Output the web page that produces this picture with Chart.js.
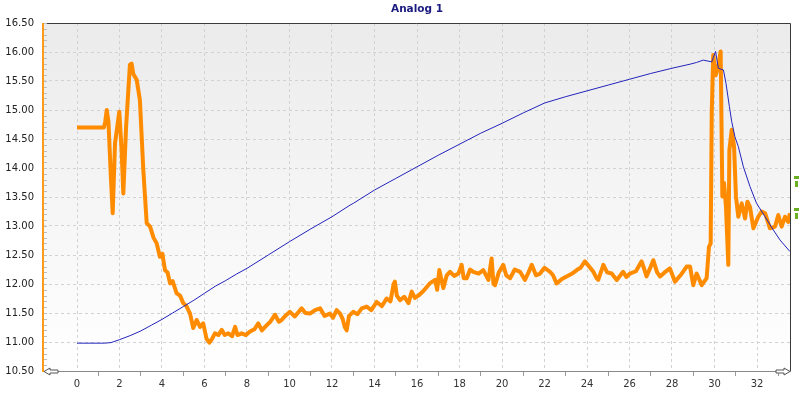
<!DOCTYPE html>
<html>
<head>
<meta charset="utf-8">
<script src="https://cdn.jsdelivr.net/npm/chart.js@4"></script>
<style>
  html, body { margin: 0; padding: 0; background: #fff; }
  #wrap { width: 800px; height: 398px; }
</style>
</head>
<body>
<div id="wrap"><canvas id="chart" width="800" height="398"></canvas></div>
<script>
// x ticks shown under the axis (odd ones get only a small tick mark)
const xTicks = [0, 1, 2, 3, 4, 5, 6, 7, 8, 9, 10, 11, 12, 13, 14, 15, 16, 17, 18, 19, 20, 21, 22, 23, 24, 25, 26, 27, 28, 29, 30, 31, 32, 33];

// blue trace
const blueX = [0, 1.3, 1.6, 2, 2.5, 3, 3.5, 4, 4.5, 5, 5.5, 6, 6.5, 7, 7.5, 8, 9, 10, 11, 12, 12.85, 13, 14, 15, 16, 17, 18, 19, 20, 21, 22, 23, 24, 25, 26, 27, 28, 28.85, 29.16, 29.47, 29.87, 30.05, 30.18, 30.42, 30.54, 30.7, 30.81, 30.96, 31.12, 31.36, 31.67, 31.98, 32.38, 32.77, 33.08, 33.55];
const blueY = [10.98, 10.98, 10.99, 11.04, 11.11, 11.19, 11.29, 11.39, 11.5, 11.61, 11.72, 11.84, 11.96, 12.06, 12.17, 12.27, 12.5, 12.73, 12.95, 13.16, 13.36, 13.39, 13.62, 13.82, 14.02, 14.22, 14.41, 14.6, 14.77, 14.95, 15.12, 15.23, 15.33, 15.43, 15.53, 15.63, 15.72, 15.79, 15.82, 15.86, 15.83, 16.01, 15.72, 15.69, 15.46, 15.06, 14.8, 14.54, 14.37, 14.02, 13.68, 13.39, 13.16, 12.93, 12.76, 12.56];

// orange trace
const orangeX = [0, 1.27, 1.33, 1.4, 1.48, 1.6, 1.68, 1.79, 1.99, 2.1, 2.18, 2.31, 2.49, 2.57, 2.65, 2.81, 2.96, 3.12, 3.28, 3.44, 3.6, 3.75, 3.9, 4.02, 4.14, 4.26, 4.38, 4.5, 4.69, 4.85, 5, 5.15, 5.32, 5.47, 5.63, 5.79, 5.94, 6.1, 6.23, 6.35, 6.49, 6.65, 6.81, 6.95, 7.12, 7.3, 7.44, 7.55, 7.75, 7.95, 8.14, 8.35, 8.53, 8.7, 8.93, 9.1, 9.32, 9.5, 9.63, 9.8, 10.02, 10.25, 10.57, 10.75, 10.96, 11.2, 11.44, 11.65, 11.9, 12.05, 12.22, 12.38, 12.5, 12.6, 12.69, 12.8, 13, 13.2, 13.4, 13.63, 13.85, 14.1, 14.35, 14.57, 14.75, 14.9, 14.96, 15.05, 15.2, 15.4, 15.6, 15.75, 15.9, 16.1, 16.3, 16.6, 16.85, 16.95, 17.05, 17.24, 17.4, 17.55, 17.75, 17.95, 18.1, 18.2, 18.34, 18.5, 18.65, 18.9, 19.12, 19.36, 19.51, 19.6, 19.67, 19.85, 20.06, 20.2, 20.38, 20.6, 20.85, 21.08, 21.25, 21.4, 21.6, 21.79, 22, 22.26, 22.4, 22.57, 22.8, 23.04, 23.3, 23.52, 23.7, 23.9, 24.1, 24.3, 24.45, 24.53, 24.77, 24.95, 25.16, 25.4, 25.7, 25.85, 26.02, 26.3, 26.57, 26.7, 26.8, 27, 27.12, 27.3, 27.44, 27.65, 27.9, 28.14, 28.4, 28.69, 28.85, 29, 29.16, 29.4, 29.63, 29.74, 29.82, 29.87, 29.94, 30.05, 30.15, 30.29, 30.37, 30.45, 30.54, 30.65, 30.7, 30.81, 30.92, 31.01, 31.12, 31.28, 31.44, 31.55, 31.67, 31.83, 32.06, 32.22, 32.38, 32.61, 32.85, 33, 33.16, 33.32, 33.47, 33.55];
const orangeY = [14.7, 14.7, 14.8, 15, 14.8, 13.8, 13.22, 14.43, 14.97, 14.3, 13.56, 14.71, 15.78, 15.8, 15.62, 15.52, 15.17, 13.97, 13.05, 12.99, 12.8, 12.7, 12.47, 12.52, 12.24, 12.2, 12.01, 12.05, 11.84, 11.8, 11.67, 11.62, 11.49, 11.24, 11.38, 11.26, 11.32, 11.05, 10.99, 11.05, 11.15, 11.12, 11.21, 11.12, 11.15, 11.1, 11.26, 11.12, 11.15, 11.12, 11.18, 11.22, 11.32, 11.2, 11.29, 11.35, 11.47, 11.35, 11.38, 11.45, 11.52, 11.44, 11.58, 11.5, 11.49, 11.55, 11.58, 11.45, 11.49, 11.42, 11.55, 11.49, 11.4, 11.26, 11.2, 11.45, 11.52, 11.48, 11.58, 11.61, 11.55, 11.69, 11.62, 11.75, 11.7, 12, 12.04, 11.8, 11.72, 11.78, 11.67, 11.87, 11.76, 11.81, 11.88, 12.01, 12.07, 11.9, 12.24, 11.93, 12.15, 12.21, 12.14, 12.18, 12.33, 12.1, 12.1, 12.25, 12.21, 12.18, 12.24, 12.07, 12.44, 12, 11.98, 12.2, 12.33, 12.15, 12.1, 12.25, 12.21, 12.07, 12.2, 12.33, 12.15, 12.18, 12.28, 12.21, 12.15, 12.01, 12.08, 12.13, 12.18, 12.24, 12.28, 12.39, 12.3, 12.21, 12.1, 12.07, 12.33, 12.2, 12.18, 12.07, 12.21, 12.12, 12.18, 12.22, 12.39, 12.25, 12.13, 12.3, 12.41, 12.2, 12.13, 12.2, 12.27, 12.04, 12.15, 12.3, 12.3, 11.98, 12.18, 11.98, 12.1, 12.64, 12.7, 14.94, 15.95, 15.6, 15.7, 16.01, 13.51, 13.74, 13.33, 12.33, 14.31, 14.66, 14.37, 13.51, 13.16, 13.39, 13.13, 13.42, 13.33, 12.96, 13.16, 13.25, 13.22, 12.96, 12.99, 13.19, 12.99, 13.16, 13.07, 13.22];

const toPoints = (xs, ys) => xs.map((x, i) => ({ x, y: ys[i] }));

// plot background, frame, arrows and small ticks on the left axis
const framePlugin = {
  id: "frame",
  beforeDraw(chart) {
    const { ctx, chartArea: a } = chart;
    const g = ctx.createLinearGradient(0, a.top, 0, a.bottom);
    g.addColorStop(0, "#ebebeb");
    g.addColorStop(1, "#ffffff");
    ctx.save();
    ctx.fillStyle = g;
    ctx.fillRect(a.left, a.top, a.right - a.left, a.bottom - a.top);
    ctx.restore();
  },
  afterDraw(chart) {
    const { ctx, chartArea: a, scales } = chart;
    ctx.save();
    // top + right
    ctx.strokeStyle = "#3a3a3a";
    ctx.lineWidth = 1;
    ctx.beginPath();
    ctx.moveTo(a.left, a.top + 0.5);
    ctx.lineTo(a.right - 0.5, a.top + 0.5);
    ctx.lineTo(a.right - 0.5, a.bottom);
    ctx.stroke();
    // bottom
    ctx.strokeStyle = "#8a8a8a";
    ctx.beginPath();
    ctx.moveTo(a.left, a.bottom + 0.5);
    ctx.lineTo(a.right, a.bottom + 0.5);
    ctx.stroke();
    // left axis in orange
    ctx.strokeStyle = "#ff9a1a";
    ctx.lineWidth = 2;
    ctx.beginPath();
    ctx.moveTo(a.left, a.top);
    ctx.lineTo(a.left, a.bottom + 1);
    ctx.stroke();
    // minor ticks inside left axis
    ctx.strokeStyle = "#bdbdbd";
    ctx.lineWidth = 1;
    const y = scales.y;
    for (let v = 10.6; v < 16.5; v += 0.1) {
      const py = Math.round(y.getPixelForValue(v)) + 0.5;
      ctx.beginPath();
      ctx.moveTo(a.left + 1, py);
      ctx.lineTo(a.left + 4, py);
      ctx.stroke();
    }
    // arrows
    const arrow = (x0, yc, dir) => {
      ctx.beginPath();
      ctx.moveTo(x0, yc);
      ctx.lineTo(x0 + dir * 6, yc - 3.5);
      ctx.lineTo(x0 + dir * 6, yc - 1.5);
      ctx.lineTo(x0 + dir * 14, yc - 1.5);
      ctx.lineTo(x0 + dir * 14, yc + 1.5);
      ctx.lineTo(x0 + dir * 6, yc + 1.5);
      ctx.lineTo(x0 + dir * 6, yc + 3.5);
      ctx.closePath();
      ctx.fillStyle = "#ffffff";
      ctx.fill();
      ctx.strokeStyle = "#555";
      ctx.stroke();
    };
    arrow(a.left + 1, a.bottom + 0.5, 1);
    arrow(a.right - 1, a.bottom + 0.5, -1);
    // little green markers right of the plot
    ctx.fillStyle = "#6cae22";
    [176, 208].forEach(t => {
      ctx.fillRect(a.right + 3, t, 5, 3);
      ctx.fillRect(a.right + 4, t + 5, 3, 6);
    });
    ctx.restore();
  }
};

new Chart(document.getElementById("chart"), {
  type: "line",
  data: {
    datasets: [
      {
        label: "Analog 1 b",
        data: toPoints(blueX, blueY),
        borderColor: "#2424bc",
        borderWidth: 1,
        pointRadius: 0,
        tension: 0,
        order: 1
      },
      {
        label: "Analog 1",
        data: toPoints(orangeX, orangeY),
        borderColor: "#ff8c00",
        borderWidth: 4,
        pointRadius: 0,
        tension: 0,
        borderJoinStyle: "round",
        order: 2
      }
    ]
  },
  options: {
    responsive: false,
    animation: false,
    layout: { padding: { left: 0, right: 9, top: 0, bottom: 0 } },
    plugins: {
      legend: { display: false },
      tooltip: { enabled: false },
      title: {
        display: true,
        text: "Analog 1",
        fullSize: false,
        color: "#1a1a80",
        font: { family: "DejaVu Sans", size: 10.5, weight: "bold", lineHeight: "13px" },
        padding: { top: 3, bottom: 7 }
      }
    },
    scales: {
      x: {
        type: "linear",
        min: -1.6,
        max: 33.6,
        afterBuildTicks: s => { s.ticks = xTicks.map(v => ({ value: v })); },
        afterFit: s => { s.height = 27; },
        ticks: {
          autoSkip: false,
          maxRotation: 0,
          padding: 2,
          color: "#333",
          font: { family: "DejaVu Sans", size: 10 },
          callback: v => (v % 2 === 0 ? String(v) : "")
        },
        grid: {
          color: c => (c.tick && c.tick.value % 2 === 0 ? "#d2d2d2" : "transparent"),
          tickColor: c => (c.tick && c.tick.value % 2 !== 0 ? "#9a9a9a" : "transparent"),
          tickLength: 5
        },
        border: { display: false, dash: [3, 3] }
      },
      y: {
        min: 10.5,
        max: 16.5,
        afterFit: s => { s.width = 43; },
        ticks: {
          stepSize: 0.5,
          padding: 9,
          color: "#222",
          font: { family: "DejaVu Sans", size: 10 },
          callback: v => Number(v).toFixed(2)
        },
        grid: { color: "#d2d2d2", drawTicks: false },
        border: { display: false, dash: [3, 3] }
      }
    }
  },
  plugins: [framePlugin]
});
</script>
</body>
</html>
